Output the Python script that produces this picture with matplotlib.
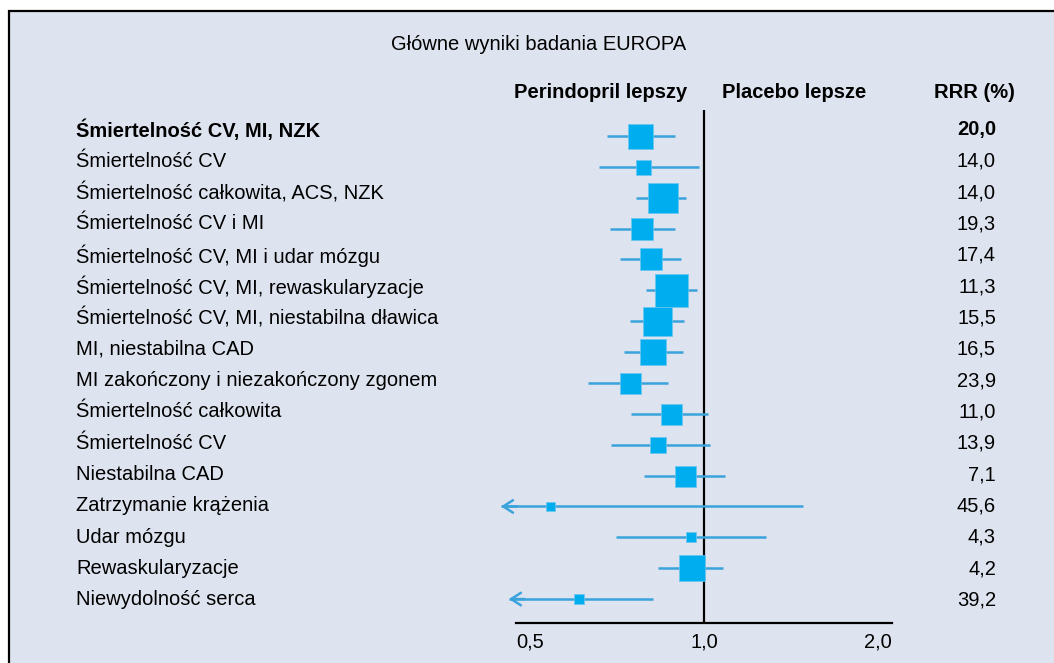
import matplotlib
matplotlib.use("Agg")
import matplotlib.pyplot as plt
from matplotlib.patches import Rectangle

plt.rcParams['font.family'] = ['Liberation Sans', 'DejaVu Sans']

# ---------------- data ----------------
title = "Główne wyniki badania EUROPA"
header_left = "Perindopril lepszy"
header_right = "Placebo lepsze"
header_rrr = "RRR (%)"

labels = [
    "Śmiertelność CV, MI, NZK",
    "Śmiertelność CV",
    "Śmiertelność całkowita, ACS, NZK",
    "Śmiertelność CV i MI",
    "Śmiertelność CV, MI i udar mózgu",
    "Śmiertelność CV, MI, rewaskularyzacje",
    "Śmiertelność CV, MI, niestabilna dławica",
    "MI, niestabilna CAD",
    "MI zakończony i niezakończony zgonem",
    "Śmiertelność całkowita",
    "Śmiertelność CV",
    "Niestabilna CAD",
    "Zatrzymanie krążenia",
    "Udar mózgu",
    "Rewaskularyzacje",
    "Niewydolność serca",
]
rrr = ["20,0", "14,0", "14,0", "19,3", "17,4", "11,3", "15,5", "16,5",
       "23,9", "11,0", "13,9", "7,1", "45,6", "4,3", "4,2", "39,2"]
hr = [0.791, 0.800, 0.860, 0.797, 0.823, 0.887, 0.842, 0.829,
      0.760, 0.887, 0.844, 0.931, 0.567, 0.953, 0.955, 0.631]
ci_low = [0.699, 0.679, 0.778, 0.707, 0.734, 0.808, 0.761, 0.745,
          0.652, 0.764, 0.710, 0.801, 0.473, 0.723, 0.844, 0.487]
ci_high = [0.899, 0.982, 0.936, 0.899, 0.919, 0.974, 0.929, 0.926,
           0.876, 1.015, 1.022, 1.080, 1.441, 1.257, 1.073, 0.829]
truncated = [False] * 12 + [True, False, False, True]
box_px = [25, 15, 30, 23, 22, 33, 29, 26, 21, 21, 16, 21, 9, 10, 27, 10]
bold_rows = [0]
xticks = [0.5, 1.0, 2.0]
xtick_labels = ["0,5", "1,0", "2,0"]

# ---------------- figure ----------------
W, H = 1054, 663
DPI = 100
FS = 14.5
fig = plt.figure(figsize=(W / DPI, H / DPI), dpi=DPI)
fig.patch.set_facecolor("white")

bg = "#dee4ef"
fig.patches.append(Rectangle((9 / W, -0.05), 1.2, 1 - 11 / H + 0.05,
                             transform=fig.transFigure, facecolor=bg,
                             edgecolor="black", linewidth=1.6, zorder=-5))

def fx(px):
    return px / W

def fy(py):
    return 1 - py / H

# axes: x from 516px (0.5) to 892px (2.0); y from 110px to 623px
ax_left, ax_right, ax_top, ax_bot = 516, 892, 110, 623
ax = fig.add_axes([fx(ax_left), fy(ax_bot), fx(ax_right - ax_left),
                   (ax_bot - ax_top) / H])
ax.set_zorder(2)
ax.set_facecolor("none")
ax.set_xscale("log", base=2)
ax.set_xlim(0.5, 2.0)

# label rows and marker rows (pixel layout)
row0, rstep = 130, 31.33
mrow0, mstep = 136, 30.87
n = len(labels)
ax.set_ylim((ax_bot - mrow0) / mstep, (ax_top - mrow0) / mstep)

for s in ["left", "right", "top"]:
    ax.spines[s].set_visible(False)
ax.spines["bottom"].set_linewidth(1.6)
ax.set_yticks([])
ax.set_xticks([])
ax.minorticks_off()
ax.tick_params(which="both", length=0)

ax.axvline(1.0, color="black", lw=1.6, zorder=1)

line_col = "#3ba3dc"
box_col = "#00adef"
pt_per_px = 72 / DPI
for i in range(n):
    lo = ci_low[i]
    ax.plot([lo, ci_high[i]], [i, i], color=line_col, lw=1.8,
            solid_capstyle="butt", zorder=2, clip_on=False)
    if truncated[i]:
        ax.annotate("", xy=(lo, i), xytext=(lo * 1.06, i),
                    arrowprops=dict(arrowstyle="->,head_length=0.7,head_width=0.45",
                                    color=line_col, lw=1.8,
                                    shrinkA=0, shrinkB=0),
                    annotation_clip=False, zorder=2)
    ax.scatter([hr[i]], [i], marker="s", s=(box_px[i] * pt_per_px) ** 2,
               color=box_col, edgecolors="#6cc6f0", linewidths=0.5,
               zorder=3, clip_on=False)

# x tick labels (below the axis line)
tick_y = -(10) / (ax_bot - ax_top)
for v, t in zip(xticks, xtick_labels):
    ha = "left" if v == xticks[0] else ("right" if v == xticks[-1] else "center")
    ax.text(v, tick_y, t, transform=ax.get_xaxis_transform(), ha=ha, va="top",
            fontsize=FS)

# row labels and RRR values
for i in range(n):
    ypx = row0 + rstep * i
    w = "bold" if i in bold_rows else "normal"
    fig.text(fx(76), fy(ypx), labels[i], ha="left", va="center",
             fontsize=FS, fontweight=w)
    fig.text(fx(996), fy(ypx), rrr[i], ha="right", va="center",
             fontsize=FS, fontweight=w)

# headers
fig.text(fx(539), fy(45), title, ha="center", va="center", fontsize=FS)
fig.text(fx(687), fy(92), header_left, ha="right", va="center",
         fontsize=FS, fontweight="bold")
fig.text(fx(722), fy(92), header_right, ha="left", va="center",
         fontsize=FS, fontweight="bold")
fig.text(fx(1015), fy(92), header_rrr, ha="right", va="center",
         fontsize=FS, fontweight="bold")

fig.savefig("out.png", dpi=DPI, facecolor=fig.get_facecolor())
